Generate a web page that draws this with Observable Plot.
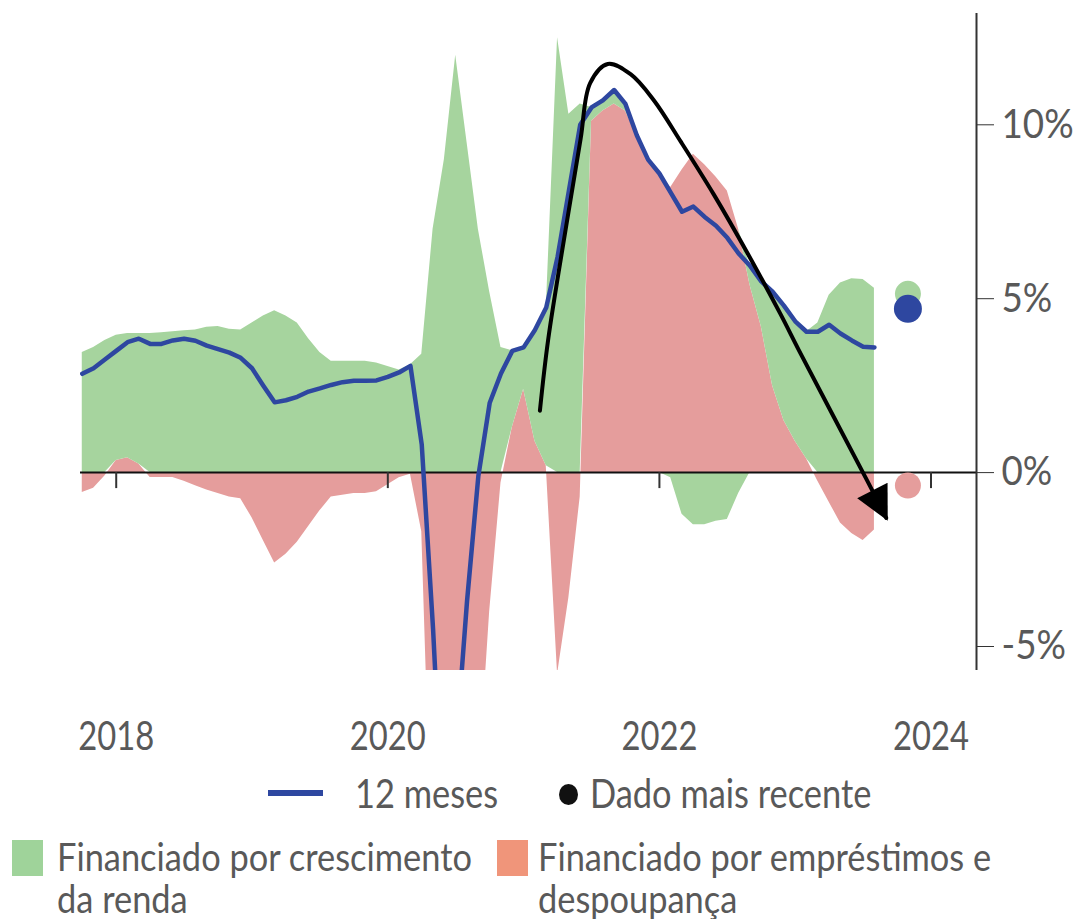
<!DOCTYPE html>
<html><head><meta charset="utf-8">
<script src="https://cdn.jsdelivr.net/npm/d3@7"></script>
<script src="https://cdn.jsdelivr.net/npm/@observablehq/plot@0.6"></script>
<style>
body{margin:0;background:#fff;}
#wrap{position:relative;width:1081px;height:919px;font-family:Lato,"Open Sans",sans-serif;color:#595959;}
#chart{position:absolute;left:0;top:0;}
.leg{position:absolute;font-size:40px;line-height:42px;white-space:nowrap;transform:scaleX(0.86);transform-origin:left top;}
.leg2{position:absolute;font-size:38px;line-height:41px;white-space:nowrap;transform:scaleX(0.905);transform-origin:left top;}
.sw{position:absolute;}
</style></head>
<body>
<div id="wrap">
  <div id="chart"></div>
  <div class="sw" style="left:268px;top:790px;width:55px;height:6px;background:#2e47a0"></div>
  <div class="leg" style="left:355px;top:772px">12 meses</div>
  <div class="sw" style="left:559px;top:784px;width:19px;height:21px;border-radius:50%;background:#111"></div>
  <div class="leg" style="left:590px;top:772px">Dado mais recente</div>
  <div class="sw" style="left:12px;top:840px;width:31px;height:36px;background:#9fd39a"></div>
  <div class="leg2" style="left:57px;top:836px">Financiado por crescimento</div>
  <div class="leg2" style="left:57px;top:878px">da renda</div>
  <div class="sw" style="left:497px;top:840px;width:31px;height:36px;background:#f0957a"></div>
  <div class="leg2" style="left:538px;top:836px">Financiado por empréstimos e</div>
  <div class="leg2" style="left:538px;top:878px">despoupança</div>
</div>
<script>
// Monthly data starting Oct 2017 (decimal year)
const startYear = 2017.75;
const total12m = [2.84,3.0,3.25,3.5,3.75,3.85,3.7,3.7,3.8,3.85,3.79,3.65,3.55,3.45,3.3,3.0,2.5,2.02,2.08,2.18,2.33,2.42,2.52,2.6,2.64,2.64,2.65,2.75,2.88,3.07,0.8,-4.5,-11,-8,-3.7,-0.1,2.0,2.85,3.5,3.6,4.1,4.75,6.2,8.1,10.0,10.5,10.7,11.0,10.6,9.7,9.0,8.6,8.05,7.5,7.65,7.35,7.1,6.75,6.3,5.95,5.5,5.2,4.8,4.35,4.05,4.05,4.25,4.0,3.8,3.62,3.6];
const loansDissaving = [-0.57,-0.45,-0.1,0.35,0.43,0.25,-0.14,-0.14,-0.14,-0.25,-0.38,-0.5,-0.6,-0.7,-0.75,-1.3,-1.95,-2.6,-2.35,-2.0,-1.55,-1.1,-0.7,-0.65,-0.6,-0.6,-0.55,-0.35,-0.15,-0.05,-1.7,-12,-15,-15,-15,-9,-4.0,-0.3,1.3,2.4,0.9,0.2,-5.8,-3.6,-0.7,10.1,10.4,10.6,10.4,9.7,9.0,8.6,8.2,8.7,9.15,8.85,8.5,8.1,7.0,5.4,4.2,2.5,1.5,0.9,0.4,-0.25,-0.85,-1.45,-1.75,-1.95,-1.65];
const incomeGrowth = [3.45,3.6,3.8,3.6,3.57,3.75,4.0,4.02,4.05,4.08,4.1,4.18,4.2,4.12,4.1,4.3,4.5,4.65,4.5,4.3,3.85,3.45,3.2,3.2,3.2,3.2,3.15,3.05,2.95,3.1,3.4,7.0,9.0,12.0,9.5,7.0,5.2,3.6,2.2,1.2,3.2,4.5,12.5,10.3,10.6,0.4,0.3,0.4,0.2,0,0,0,-0.15,-1.2,-1.5,-1.5,-1.4,-1.35,-0.6,0.55,1.3,2.7,3.3,3.45,3.65,4.3,5.1,5.45,5.57,5.55,5.3];
const months = total12m.map((_, i) => startYear + i / 12);

// Latest data point
const latestYear = [2023.83];
const latestIncome = [5.14];
const latestTotal = [4.71];
const latestLoans = [-0.37];

// Annotation arrow path (year, %)
const arrowYears = [2021.12,2021.18,2021.32,2021.42,2021.49,2021.62,2021.79,2021.96,2022.16,2022.40,2022.65,2022.89,2023.04,2023.53,2023.67];
const arrowVals  = [1.78,3.8,7.24,9.6,11.2,11.75,11.45,10.7,9.5,8.0,6.3,4.57,3.42,-0.23,-1.3];

const xTicks = [2018, 2020, 2022, 2024];
const yTicks = [-5, 0, 5, 10];
const xDomain = [2017.737, 2024.335];
const yDomain = [-5.69, 13.2];

const cGreen = "#a6d49e", cRed = "#e59d9c", cBlue = "#2e47a0";

// income growth split into its negative and positive parts so that the
// negative part stacks below zero and the positive part on top of loans
const areaRows = [];
months.forEach((m, i) => {
  const g = incomeGrowth[i];
  areaRows.push({year: m, value: Math.min(g, 0), s: "renda-"});
  areaRows.push({year: m, value: loansDissaving[i], s: "emp"});
  areaRows.push({year: m, value: Math.max(g, 0), s: "renda+"});
});
const lineRows = months.map((m, i) => ({year: m, value: total12m[i]}));
const arrowRows = arrowYears.map((yr, i) => ({year: yr, value: arrowVals[i]}));

const font = 'Lato,"Open Sans",sans-serif';

const svg = Plot.plot({
  width: 1081, height: 760,
  marginLeft: 80, marginRight: 105, marginTop: 13, marginBottom: 90,
  style: {fontFamily: font, fontSize: "40px", color: "#595959", background: "transparent", overflow: "visible"},
  x: {domain: xDomain, label: null},
  y: {domain: yDomain, label: null},
  color: {domain: ["renda-", "emp", "renda+"], range: [cGreen, cRed, cGreen]},
  marks: [
    Plot.areaY(areaRows, Plot.stackY({x: "year", y: "value", z: "s", fill: "s", order: ["renda-", "emp", "renda+"], clip: true})),
    Plot.ruleY([0], {stroke: "#111", strokeWidth: 2}),
    Plot.ruleX(xTicks, {x: d => d, y1: 0, y2: 0, insetBottom: -16, stroke: "#333", strokeWidth: 2}),
    Plot.line(lineRows, {x: "year", y: "value", stroke: cBlue, strokeWidth: 4.5, clip: true}),
    Plot.line(arrowRows, {x: "year", y: "value", stroke: "black", strokeWidth: 4, curve: "catmull-rom"}),
    Plot.dot(latestYear, {x: d => d, y: (d, i) => latestIncome[i], r: 13, fill: cGreen}),
    Plot.dot(latestYear, {x: d => d, y: (d, i) => latestLoans[i], r: 13, fill: cRed}),
    Plot.dot(latestYear, {x: d => d, y: (d, i) => latestTotal[i], r: 14, fill: cBlue}),
    Plot.ruleX([xDomain[1]], {stroke: "#333", strokeWidth: 2}),
    Plot.axisY({anchor: "right", ticks: yTicks, tickFormat: d => d + "%", tickSize: 17, tickPadding: 8, fontSize: 40, stroke: "#333", label: null}),
    Plot.axisX({anchor: "bottom", ticks: xTicks, tickSize: 0, tickPadding: 51, tickFormat: d => String(d), fontSize: 40, label: null})
  ]
});
document.getElementById("chart").appendChild(svg);

const s = d3.select(svg);
// condense tick label glyphs
s.selectAll('g[aria-label="x-axis tick label"] text').each(function() {
  const t = d3.select(this);
  t.attr("transform", (t.attr("transform") || "") + " scale(0.82,1)");
});
s.selectAll('g[aria-label="y-axis tick label"] text').each(function() {
  const t = d3.select(this);
  t.attr("transform", (t.attr("transform") || "") + " scale(0.92,1)");
});
// filled arrowhead at the end of the annotation line
s.append("defs").append("marker")
  .attr("id", "ah").attr("viewBox", "0 0 10 10").attr("refX", 9).attr("refY", 5)
  .attr("markerUnits", "userSpaceOnUse").attr("markerWidth", 38).attr("markerHeight", 34)
  .attr("orient", "auto")
  .append("path").attr("d", "M0,0L10,5L0,10z").attr("fill", "#000");
s.selectAll('g[aria-label="line"]')
  .filter(function() { return d3.select(this).attr("stroke") === "black"; })
  .select("path").attr("marker-end", "url(#ah)");
</script>
</body></html>
